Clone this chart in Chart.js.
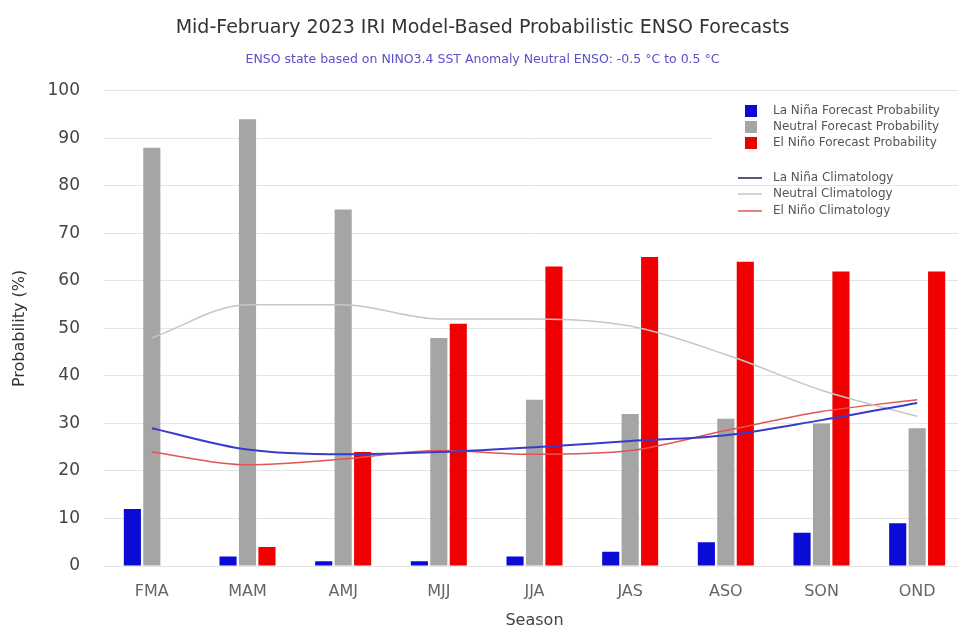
<!DOCTYPE html>
<html>
<head>
<meta charset="utf-8">
<script src="https://cdn.jsdelivr.net/npm/chart.js@4"></script>
<style>
  html, body { margin: 0; padding: 0; background: #fff; overflow: hidden; }
  #wrap { width: 966px; height: 630px; }
</style>
</head>
<body>
<div id="wrap"><canvas id="enso" width="966" height="630"></canvas></div>
<script>
// Seasons (three-month running periods)
const seasons = ['FMA', 'MAM', 'AMJ', 'MJJ', 'JJA', 'JAS', 'ASO', 'SON', 'OND'];

// Forecast probabilities (%)
const laNinaProb  = [12, 2, 1, 1, 2, 3, 5, 7, 9];
const neutralProb = [88, 94, 75, 48, 35, 32, 31, 30, 29];
const elNinoProb  = [0, 4, 24, 51, 63, 65, 64, 62, 62];

// Climatological probabilities (%)
const laNinaClim  = [29, 24.5, 23.5, 24, 25, 26.3, 27.5, 30.7, 34.3];
const neutralClim = [48, 55, 55, 52, 52, 50.5, 44.5, 37, 31.5];
const elNinoClim  = [24, 21.3, 22.5, 24.3, 23.5, 24.3, 28.5, 32.5, 35];

// Y axis ticks
const yTicks = [0, 10, 20, 30, 40, 50, 60, 70, 80, 90, 100];

const FONT = "'DejaVu Sans', Verdana, sans-serif";

// Two-group legend drawn at the upper right: bar swatches on a white panel, then climatology lines
const twoGroupLegend = {
  id: 'twoGroupLegend',
  afterDatasetsDraw(chart) {
    const ctx = chart.ctx;
    const ds = chart.data.datasets;
    ctx.save();
    ctx.fillStyle = '#ffffff';
    ctx.fillRect(712, 96, chart.width - 712, 62);
    ctx.font = '12px ' + FONT;
    ctx.textBaseline = 'middle';
    ctx.textAlign = 'left';
    const bars = ds.filter(d => d.type === 'bar');
    const lines = ds.filter(d => d.type === 'line');
    const barY = [111, 127, 143];
    bars.forEach((d, i) => {
      ctx.fillStyle = d.backgroundColor;
      ctx.fillRect(745, barY[i] - 6, 12, 12);
      ctx.fillStyle = '#555';
      ctx.fillText(d.label, 773, barY[i]);
    });
    const lineY = [178, 194, 211];
    lines.forEach((d, i) => {
      ctx.strokeStyle = d.legendColor || d.borderColor;
      ctx.lineWidth = 1.5;
      ctx.beginPath();
      ctx.moveTo(738, lineY[i]);
      ctx.lineTo(762, lineY[i]);
      ctx.stroke();
      ctx.fillStyle = '#555';
      ctx.fillText(d.label, 773, lineY[i]);
    });
    ctx.restore();
  }
};

const lineStyle = {
  type: 'line',
  pointRadius: 0,
  pointHoverRadius: 0,
  fill: false,
  cubicInterpolationMode: 'monotone',
  order: 0
};

new Chart(document.getElementById('enso'), {
  data: {
    labels: seasons,
    datasets: [
      { type: 'bar', label: 'La Niña Forecast Probability', data: laNinaProb, backgroundColor: '#0b0bd6', order: 1 },
      { type: 'bar', label: 'Neutral Forecast Probability', data: neutralProb, backgroundColor: '#a5a5a5', order: 1 },
      { type: 'bar', label: 'El Niño Forecast Probability', data: elNinoProb, backgroundColor: '#f00000', order: 1 },
      Object.assign({ label: 'La Niña Climatology', data: laNinaClim, borderColor: '#3a3acc', legendColor: '#20205a', borderWidth: 2 }, lineStyle),
      Object.assign({ label: 'Neutral Climatology', data: neutralClim, borderColor: '#c6c6c6', borderWidth: 1.5 }, lineStyle),
      Object.assign({ label: 'El Niño Climatology', data: elNinoClim, borderColor: '#e25555', borderWidth: 1.5 }, lineStyle)
    ]
  },
  options: {
    responsive: false,
    animation: false,
    events: [],
    layout: { padding: { left: 0, right: 1, top: 0, bottom: 0 } },
    datasets: {
      bar: { categoryPercentage: 0.61, barPercentage: 0.88 }
    },
    plugins: {
      legend: { display: false },
      tooltip: { enabled: false },
      title: {
        display: true,
        text: 'Mid-February 2023 IRI Model-Based Probabilistic ENSO Forecasts',
        color: '#333',
        font: { family: FONT, size: 19, weight: 'normal' },
        padding: { top: 17, bottom: 12 }
      },
      subtitle: {
        display: true,
        text: 'ENSO state based on NINO3.4 SST Anomaly Neutral ENSO: -0.5 °C to 0.5 °C',
        color: '#5a50c8',
        font: { family: FONT, size: 12.5, weight: 'normal' },
        padding: { top: 0, bottom: 24 }
      }
    },
    scales: {
      x: {
        offset: true,
        grid: { display: false },
        border: { display: false },
        ticks: { color: '#666', font: { family: FONT, size: 16 }, padding: 8 },
        title: {
          display: true, text: 'Season', color: '#444',
          font: { family: FONT, size: 16 },
          padding: { top: 0, bottom: 0 }
        },
        afterFit(scale) { scale.height = 64; }
      },
      y: {
        min: 0,
        max: 100,
        afterBuildTicks(scale) { scale.ticks = yTicks.map(v => ({ value: v })); },
        grid: { color: '#e4e4e4', lineWidth: 1, drawTicks: false },
        border: { display: false },
        ticks: { color: '#444', font: { family: FONT, size: 17 }, padding: 24 },
        title: {
          display: true, text: 'Probability (%)', color: '#333',
          font: { family: FONT, size: 16 },
          padding: { top: 10, bottom: 0 }
        },
        afterFit(scale) { scale.width = 104; }
      }
    }
  },
  plugins: [twoGroupLegend]
});
</script>
</body>
</html>
